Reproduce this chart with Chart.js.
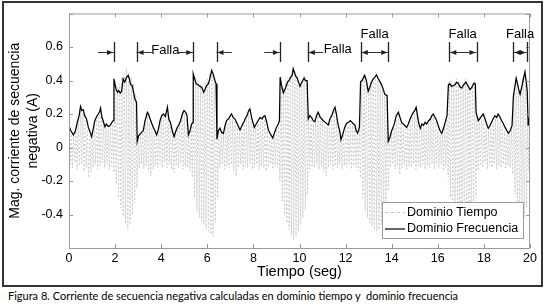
<!DOCTYPE html>
<html>
<head>
<meta charset="utf-8">
<script src="https://cdn.jsdelivr.net/npm/chart.js@4.4.0/dist/chart.umd.min.js"></script>
<style>
  html, body { margin: 0; padding: 0; background: #fff; }
  #wrap { position: relative; width: 546px; height: 306px; overflow: hidden; }
  #frame { position: absolute; left: 2px; top: 1px; width: 537px; height: 282px; border: 2px solid #333; }
  #plot { position: absolute; left: 0; top: 0; }
  #caption { position: absolute; left: 8px; top: 289px; font-family: Lato, sans-serif; font-size: 11px; white-space: nowrap; color: #000; }
</style>
</head>
<body>
<div id="wrap">
  <div id="frame"></div>
  <canvas id="plot" width="546" height="285"></canvas>
  <div id="caption">Figura 8. Corriente de secuencia negativa calculadas en dominio tiempo y&nbsp; dominio frecuencia</div>
</div>
<script>
// negative sequence current, time-domain estimate (sampled every 0.05 s)
var tdStep = 0.05;
var timeDomain = [
  .12,-.10,.08,-.12,.07,-.09,.10,-.13,.17,-.11,.22,-.10,.20,-.14,.16,-.12,.11,-.18,.07,-.15,
  .08,-.12,.14,-.10,.17,-.13,.20,-.11,.19,-.09,.14,-.12,.12,-.10,.11,-.13,.12,-.11,.14,-.15,
  .40,-.22,.36,-.30,.38,-.36,.42,-.41,.44,-.45,.47,-.49,.45,-.46,.42,-.40,.38,-.33,.32,-.24,
  .06,-.12,.08,-.10,.10,-.13,.16,-.11,.19,-.14,.15,-.17,.12,-.13,.09,-.11,.07,-.12,.13,-.10,
  .17,-.12,.18,-.09,.20,-.12,.20,-.10,.13,-.13,.07,-.15,.09,-.11,.11,-.12,.14,-.10,.18,-.13,
  .20,-.11,.17,-.12,.08,-.14,.13,-.18,.43,-.30,.42,-.38,.40,-.42,.38,-.44,.37,-.46,.39,-.49,
  .41,-.50,.44,-.52,.47,-.53,.42,-.45,.30,-.30,.09,-.12,.08,-.10,.08,-.13,.14,-.11,.15,-.12,
  .17,-.10,.17,-.14,.15,-.17,.12,-.12,.09,-.10,.11,-.13,.14,-.11,.17,-.12,.20,-.10,.17,-.13,
  .12,-.12,.12,-.10,.14,-.13,.16,-.11,.16,-.12,.17,-.14,.11,-.12,.07,-.10,.05,-.13,.08,-.11,
  .11,-.12,.14,-.20,.42,-.32,.36,-.40,.40,-.45,.42,-.49,.44,-.52,.48,-.55,.45,-.53,.43,-.50,
  .38,-.46,.40,-.42,.43,-.37,.41,-.28,.16,-.13,.17,-.11,.14,-.12,.16,-.10,.19,-.13,.16,-.11,
  .15,-.14,.13,-.17,.12,-.12,.15,-.10,.17,-.13,.22,-.11,.18,-.12,.10,-.10,.04,-.13,.09,-.11,
  .12,-.12,.13,-.10,.14,-.13,.13,-.11,.12,-.12,.07,-.14,.11,-.18,.41,-.30,.44,-.38,.40,-.42,
  .35,-.45,.39,-.47,.42,-.49,.45,-.50,.42,-.49,.39,-.46,.36,-.42,.32,-.36,.30,-.26,.05,-.12,
  .08,-.10,.12,-.13,.17,-.11,.19,-.16,.15,-.12,.12,-.10,.11,-.13,.12,-.11,.15,-.12,.18,-.10,
  .20,-.13,.20,-.11,.11,-.12,.12,-.10,.12,-.13,.12,-.11,.14,-.12,.17,-.10,.18,-.13,.15,-.11,
  .11,-.12,.08,-.10,.08,-.14,.13,-.12,.17,-.18,.40,-.30,.38,-.38,.38,-.42,.41,-.46,.40,-.48,
  .37,-.50,.39,-.49,.41,-.47,.38,-.44,.36,-.40,.38,-.36,.40,-.30,.19,-.14,.15,-.11,.17,-.12,
  .16,-.10,.12,-.13,.10,-.11,.13,-.12,.15,-.10,.17,-.13,.18,-.11,.16,-.12,.13,-.10,.10,-.13,
  .08,-.11,.08,-.12,.11,-.16,.32,-.28,.42,-.38,.36,-.44,.34,-.46,.42,-.42,.47,-.36,.15,-.14,
  .17
];

// frequency-domain estimate (magnitude)
var freqTime = [
  0.00,0.08,0.19,0.28,0.36,0.44,0.50,0.56,0.62,0.68,0.76,0.84,0.92,0.98,1.05,1.12,1.20,1.27,1.33,1.37,
  1.42,1.48,1.56,1.62,1.70,1.78,1.86,1.92,1.95,1.99,2.04,2.10,2.16,2.22,2.28,2.35,2.42,2.50,2.57,2.62,
  2.67,2.74,2.80,2.86,2.93,2.96,3.02,3.08,3.15,3.22,3.30,3.40,3.46,3.52,3.60,3.66,3.73,3.80,3.88,3.95,
  4.02,4.10,4.18,4.27,4.33,4.40,4.48,4.56,4.64,4.70,4.76,4.84,4.92,4.99,5.06,5.12,5.18,5.25,5.32,5.38,
  5.39,5.45,5.52,5.60,5.68,5.76,5.84,5.90,5.97,6.04,6.10,6.19,6.25,6.33,6.38,6.42,6.48,6.55,6.62,6.70,
  6.77,6.84,6.92,7.00,7.05,7.12,7.20,7.30,7.42,7.50,7.58,7.64,7.72,7.80,7.85,7.92,8.00,8.04,8.12,8.20,
  8.29,8.38,8.44,8.50,8.58,8.65,8.74,8.84,8.92,9.00,9.08,9.13,9.16,9.22,9.30,9.38,9.48,9.55,9.62,9.68,
  9.73,9.80,9.86,9.90,9.96,10.02,10.10,10.20,10.26,10.33,10.38,10.45,10.52,10.60,10.67,10.74,10.81,10.90,10.97,11.03,
  11.12,11.20,11.25,11.32,11.40,11.47,11.54,11.60,11.67,11.75,11.80,11.88,11.96,12.04,12.12,12.20,12.28,12.34,12.40,12.46,
  12.52,12.60,12.65,12.72,12.78,12.83,12.90,12.98,13.05,13.12,13.20,13.27,13.34,13.42,13.50,13.56,13.63,13.70,13.80,13.85,
  13.92,14.00,14.10,14.20,14.29,14.36,14.43,14.50,14.58,14.65,14.72,14.80,14.86,14.94,15.00,15.06,15.12,15.18,15.24,15.31,
  15.38,15.45,15.52,15.60,15.68,15.74,15.80,15.88,15.95,16.02,16.10,16.17,16.24,16.32,16.40,16.46,16.52,16.60,16.68,16.75,
  16.82,16.90,16.97,17.04,17.10,17.16,17.22,17.30,17.40,17.48,17.57,17.63,17.66,17.76,17.86,17.97,18.05,18.12,18.19,18.26,
  18.33,18.40,18.48,18.55,18.62,18.70,18.77,18.84,18.92,19.00,19.06,19.14,19.22,19.28,19.34,19.40,19.46,19.52,19.57,19.64,
  19.70,19.78,19.84,19.88,19.92,19.96,20.00
];
var freqCurrent = [
  0.13,0.10,0.075,0.10,0.15,0.19,0.245,0.22,0.225,0.19,0.17,0.12,0.09,0.065,0.11,0.16,0.185,0.20,0.215,0.235,
  0.185,0.16,0.124,0.14,0.125,0.13,0.15,0.16,0.41,0.38,0.35,0.33,0.34,0.325,0.335,0.41,0.39,0.42,0.43,0.41,
  0.375,0.37,0.33,0.29,0.27,0.037,0.07,0.08,0.09,0.10,0.16,0.21,0.195,0.17,0.14,0.12,0.10,0.075,0.11,0.16,
  0.19,0.20,0.185,0.24,0.17,0.15,0.10,0.065,0.10,0.12,0.133,0.16,0.20,0.22,0.21,0.19,0.075,0.10,0.14,0.15,
  0.44,0.41,0.38,0.375,0.365,0.36,0.33,0.345,0.37,0.38,0.405,0.46,0.44,0.40,0.38,0.05,0.10,0.115,0.09,0.085,
  0.13,0.162,0.17,0.19,0.20,0.18,0.17,0.14,0.105,0.13,0.15,0.17,0.19,0.22,0.23,0.18,0.14,0.12,0.14,0.16,
  0.18,0.17,0.185,0.19,0.15,0.105,0.08,0.057,0.09,0.12,0.14,0.16,0.42,0.37,0.326,0.35,0.39,0.40,0.42,0.43,
  0.47,0.44,0.42,0.415,0.39,0.365,0.39,0.415,0.40,0.40,0.17,0.19,0.18,0.16,0.155,0.19,0.21,0.18,0.17,0.16,
  0.15,0.14,0.135,0.17,0.19,0.22,0.24,0.20,0.14,0.095,0.046,0.08,0.12,0.143,0.15,0.16,0.15,0.14,0.135,0.10,
  0.085,0.12,0.394,0.40,0.42,0.43,0.40,0.335,0.36,0.39,0.41,0.42,0.433,0.41,0.39,0.375,0.35,0.317,0.31,0.037,
  0.06,0.10,0.135,0.19,0.21,0.18,0.15,0.14,0.13,0.12,0.14,0.17,0.19,0.21,0.22,0.24,0.19,0.14,0.114,0.14,
  0.133,0.15,0.14,0.16,0.17,0.19,0.20,0.18,0.16,0.13,0.10,0.085,0.11,0.15,0.19,0.375,0.38,0.365,0.37,0.375,
  0.39,0.38,0.36,0.355,0.37,0.38,0.39,0.37,0.345,0.36,0.385,0.38,0.21,0.16,0.18,0.20,0.17,0.14,0.114,0.13,
  0.15,0.17,0.19,0.18,0.20,0.18,0.16,0.143,0.12,0.10,0.085,0.10,0.13,0.307,0.36,0.414,0.38,0.34,0.317,0.36,
  0.40,0.45,0.39,0.335,0.13,0.17,0.19
];

// fault markers (in axis units)
var faultBars = [1.95, 2.93, 5.39, 6.40, 9.15, 10.36, 12.66, 13.85, 16.50, 17.68, 19.28, 19.86];
var faultArrows = [
  { from: 1.26, to: 1.95 },
  { from: 3.59, to: 2.93 },
  { from: 4.74, to: 5.39 },
  { from: 7.06, to: 6.40 },
  { from: 8.47, to: 9.15 },
  { from: 11.02, to: 10.36 },
  { from: 12.66, to: 13.85, both: true },
  { from: 16.50, to: 17.68, both: true },
  { from: 19.28, to: 19.86, both: true }
];
var faultLabels = [
  { x: 4.18, y: 0.580 },
  { x: 11.66, y: 0.583 },
  { x: 13.26, y: 0.677 },
  { x: 17.08, y: 0.677 },
  { x: 19.57, y: 0.677 }
];

var FONT = "'Liberation Sans', Arial, sans-serif";

var timePoints = timeDomain.map(function (v, i) { return { x: i * tdStep, y: v }; });
var freqPoints = freqTime.map(function (t, i) { return { x: t, y: freqCurrent[i] }; });

function arrowHead(ctx, x, y, dir) {
  ctx.beginPath();
  ctx.moveTo(x, y);
  ctx.lineTo(x - dir * 6, y - 2.5);
  ctx.lineTo(x - dir * 6, y + 2.5);
  ctx.closePath();
  ctx.fill();
}

var matlabDecor = {
  id: 'matlabDecor',
  afterDraw: function (chart) {
    var ctx = chart.ctx, a = chart.chartArea;
    var xs = chart.scales.x, ys = chart.scales.y;
    ctx.save();

    // axes box
    ctx.strokeStyle = '#9a9a9a';
    ctx.lineWidth = 1;
    ctx.strokeRect(a.left + 0.5, a.top + 0.5, a.right - a.left - 1, a.bottom - a.top);

    // inward ticks
    ctx.beginPath();
    xs.ticks.forEach(function (t) {
      var px = Math.round(xs.getPixelForValue(t.value)) + 0.5;
      ctx.moveTo(px, a.bottom); ctx.lineTo(px, a.bottom - 4);
      ctx.moveTo(px, a.top); ctx.lineTo(px, a.top + 4);
    });
    ys.ticks.forEach(function (t) {
      var py = Math.round(ys.getPixelForValue(t.value)) + 0.5;
      ctx.moveTo(a.left, py); ctx.lineTo(a.left + 4, py);
      ctx.moveTo(a.right, py); ctx.lineTo(a.right - 4, py);
    });
    ctx.stroke();

    // fault bars
    ctx.strokeStyle = '#222';
    ctx.lineWidth = 1.3;
    var yTop = ys.getPixelForValue(0.63), yBot = ys.getPixelForValue(0.51);
    ctx.beginPath();
    faultBars.forEach(function (b) {
      var px = Math.round(xs.getPixelForValue(b)) + 0.5;
      ctx.moveTo(px, yTop); ctx.lineTo(px, yBot);
    });
    ctx.stroke();

    // arrows
    var ay = Math.round(ys.getPixelForValue(0.572)) + 0.5;
    ctx.strokeStyle = '#333';
    ctx.fillStyle = '#222';
    ctx.lineWidth = 1;
    faultArrows.forEach(function (ar) {
      var p0 = xs.getPixelForValue(ar.from), p1 = xs.getPixelForValue(ar.to);
      var dir = p1 > p0 ? 1 : -1;
      ctx.beginPath();
      ctx.moveTo(p0, ay); ctx.lineTo(p1, ay);
      ctx.stroke();
      arrowHead(ctx, p1 - dir, ay, dir);
      if (ar.both) arrowHead(ctx, p0 + dir, ay, -dir);
    });

    // labels
    ctx.fillStyle = '#000';
    ctx.font = '13px ' + FONT;
    ctx.textAlign = 'center';
    ctx.textBaseline = 'middle';
    faultLabels.forEach(function (l) {
      ctx.fillText('Falla', xs.getPixelForValue(l.x), ys.getPixelForValue(l.y));
    });

    // legend box
    var lx = 382, ly = 202, lw = 141, lh = 36;
    ctx.fillStyle = '#fff';
    ctx.fillRect(lx, ly, lw, lh);
    ctx.strokeStyle = '#9a9a9a';
    ctx.strokeRect(lx + 0.5, ly + 0.5, lw, lh);
    ctx.lineWidth = 1;
    ctx.strokeStyle = '#c4c4c4';
    ctx.setLineDash([3, 3]);
    ctx.beginPath(); ctx.moveTo(385, 212.5); ctx.lineTo(405, 212.5); ctx.stroke();
    ctx.setLineDash([]);
    ctx.strokeStyle = '#000';
    ctx.lineWidth = 1.2;
    ctx.beginPath(); ctx.moveTo(385, 229); ctx.lineTo(405, 229); ctx.stroke();
    ctx.fillStyle = '#000';
    ctx.font = '12.5px ' + FONT;
    ctx.textAlign = 'left';
    ctx.fillText(chart.data.datasets[1].label, 407, 212.5);
    ctx.fillText(chart.data.datasets[0].label, 407, 229);

    ctx.restore();
  }
};

new Chart(document.getElementById('plot'), {
  type: 'line',
  data: {
    datasets: [
      { label: 'Dominio Frecuencia', data: freqPoints, borderColor: '#000', borderWidth: 1.25,
        pointRadius: 0, tension: 0, order: 0 },
      { label: 'Dominio Tiempo', data: timePoints, borderColor: '#cbcbcb', borderWidth: 1,
        borderDash: [2, 2], pointRadius: 0, tension: 0, order: 1 }
    ]
  },
  options: {
    responsive: false,
    animation: false,
    devicePixelRatio: 1,
    layout: { padding: { left: 0, top: 5, right: 16, bottom: 0 } },
    plugins: { legend: { display: false }, tooltip: { enabled: false } },
    scales: {
      x: {
        type: 'linear', min: 0, max: 20,
        afterFit: function (s) { s.height = 37; },
        grid: { display: false, drawTicks: false },
        border: { display: false },
        ticks: { stepSize: 2, padding: 3, maxRotation: 0, autoSkip: false, color: '#000',
                 font: { family: FONT, size: 12.5 } },
        title: { display: true, text: 'Tiempo (seg)', color: '#000',
                 font: { family: FONT, size: 14.5 }, padding: { top: 0, bottom: 4 } }
      },
      y: {
        min: -0.6, max: 0.8,
        afterFit: function (s) { s.width = 69; },
        grid: { display: false, drawTicks: false },
        border: { display: false },
        ticks: {
          stepSize: 0.2, padding: 6, color: '#000', font: { family: FONT, size: 12.5 },
          callback: function (v) {
            if (v < -0.55 || v > 0.75) return '';
            if (Math.abs(v) < 1e-9) return '0';
            return String(Math.round(v * 10) / 10);
          }
        },
        title: { display: true, text: ['Mag. corriente de secuencia', 'negativa (A)'], color: '#000',
                 font: { family: FONT, size: 14, lineHeight: 1.3 }, padding: { top: 6, bottom: 0 } }
      }
    }
  },
  plugins: [matlabDecor]
});
</script>
</body>
</html>
